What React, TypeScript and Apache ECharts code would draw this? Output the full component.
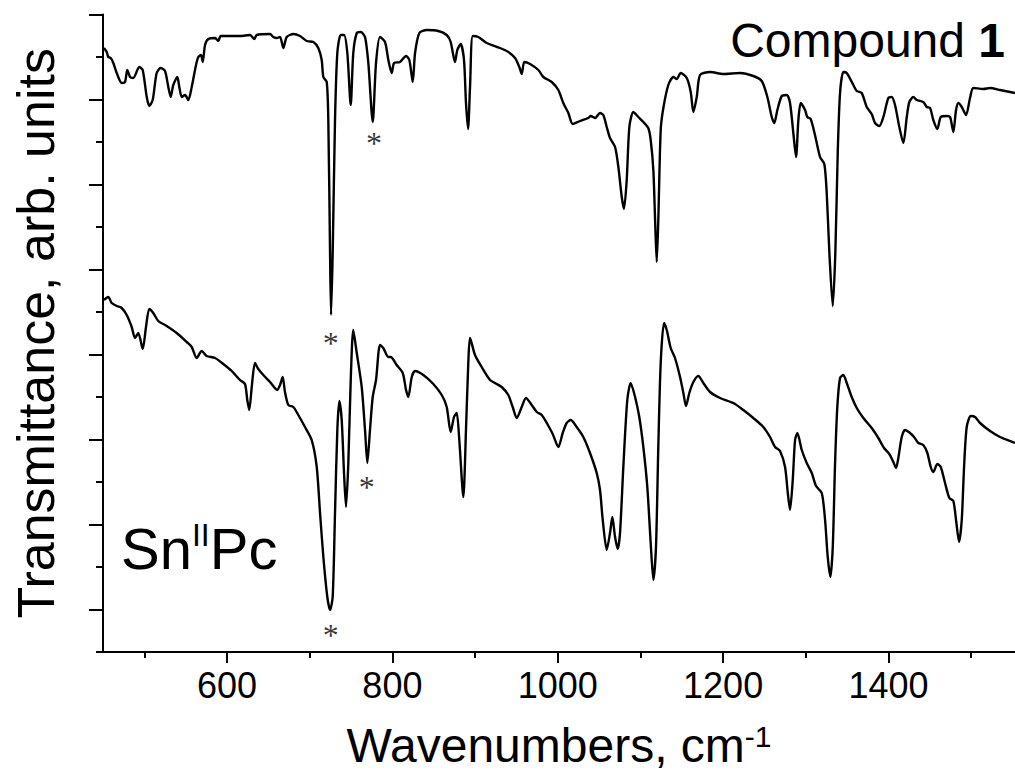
import React, { useEffect, useRef } from "react";
import * as echarts from "echarts";

// Compound 1 spectrum (wavenumber, transmittance in arb. units)
const compoundWn = [451.2,454.5,456.4,459.3,462.5,466.6,472.6,476.6,479.4,482.7,486.6,493.9,498.0,502.9,506.0,510.1,514.9,519.8,525.0,529.0,531.9,535.0,539.9,542.3,545.2,549.2,553.2,557.3,562.5,565.3,568.5,570.6,573.4,577.4,585.5,589.5,592.4,615.7,627.8,633.0,635.9,652.0,656.0,660.1,664.1,668.1,672.2,680.2,688.3,696.4,704.4,710.4,714.5,716.5,720.6,722.5,724.6,725.8,727.8,730.6,733.4,737.5,741.5,745.5,749.6,752.7,756.9,761.7,766.9,770.9,776.2,780.2,785.0,791.1,795.1,799.2,802.0,809.2,816.5,820.5,824.6,827.4,832.6,841.5,855.5,865.7,870.5,875.7,878.5,882.6,886.6,889.0,891.5,893.9,897.2,903.9,914.1,930.2,940.2,948.3,953.5,956.4,959.6,966.5,976.5,982.6,992.7,1000.7,1006.7,1012.8,1018.1,1026.9,1037.0,1039.9,1045.1,1051.1,1055.1,1059.2,1063.2,1069.3,1073.3,1077.4,1080.1,1083.4,1086.6,1091.4,1097.4,1103.5,1109.5,1112.4,1115.6,1118.0,1119.7,1121.6,1124.5,1127.7,1133.7,1139.8,1143.9,1148.7,1156.0,1160.8,1164.0,1168.1,1172.1,1184.2,1200.3,1220.4,1236.5,1246.7,1253.5,1258.8,1261.9,1265.6,1270.9,1276.9,1280.9,1284.9,1288.2,1291.0,1293.9,1299.1,1301.8,1305.9,1311.1,1317.2,1322.4,1325.3,1328.5,1332.6,1335.7,1338.6,1341.4,1345.4,1349.5,1357.5,1361.6,1367.6,1373.7,1379.7,1383.7,1388.9,1393.8,1399.8,1403.9,1407.9,1413.1,1418.0,1422.1,1425.2,1430.1,1434.2,1442.1,1446.3,1450.3,1454.2,1459.1,1463.2,1470.4,1474.5,1478.4,1481.7,1484.5,1488.6,1493.8,1498.6,1502.6,1514.7,1522.8,1534.9,1547.0,1553.0];
const compoundT = [60.4,60.0,59.5,59.4,58.9,57.9,56.9,57.0,58.2,57.5,57.4,58.5,58.2,55.5,54.6,55.2,57.9,58.4,58.1,56.5,55.5,56.7,57.5,56.5,55.5,55.7,55.2,56.5,58.7,59.5,59.7,59.0,60.7,61.3,61.4,61.1,61.6,61.6,61.7,61.3,61.7,61.8,61.5,61.4,61.5,60.4,61.5,61.8,61.6,61.1,61.0,60.4,59.2,57.5,57.0,53.2,39.9,33.7,39.9,53.2,59.9,61.7,61.7,59.9,54.7,59.9,61.9,62.0,61.5,58.9,53.0,58.9,61.5,61.0,59.2,57.9,58.9,59.0,59.6,59.2,57.0,59.9,61.9,62.2,62.1,61.7,61.0,59.0,60.2,60.8,59.2,54.9,52.3,56.5,61.6,61.5,60.9,60.4,60.0,59.4,58.5,57.8,59.0,58.8,58.2,57.5,57.0,56.2,54.9,53.9,52.8,53.1,53.4,53.6,53.4,53.9,53.7,52.5,51.4,50.5,48.5,45.5,44.3,47.2,52.5,54.0,53.5,53.0,52.4,51.2,48.2,42.5,39.0,43.2,52.2,54.4,56.7,57.5,57.3,57.9,57.4,56.0,54.0,55.5,57.7,58.0,57.8,57.9,57.6,57.1,55.5,53.5,52.9,54.2,55.6,55.7,54.9,51.9,49.5,53.2,54.9,54.2,53.5,53.3,51.7,49.5,48.8,45.9,39.9,34.6,39.9,49.9,55.9,58.0,57.9,56.7,56.1,55.9,54.5,53.8,52.9,52.6,53.5,55.4,55.5,54.7,52.5,50.9,53.5,55.0,55.5,55.2,55.0,54.5,54.4,53.2,52.3,53.5,53.6,53.5,52.0,54.2,54.9,54.5,53.7,55.4,56.4,56.3,56.4,56.2,56.0,55.9];

// Sn(II)Pc spectrum
const snpcWn = [451.2,456.4,460.5,466.6,472.6,478.7,484.7,488.7,492.7,498.0,502.0,506.0,510.8,516.9,527.0,539.1,551.2,557.3,563.3,569.4,575.4,585.5,595.5,605.7,615.7,621.7,624.5,626.9,629.9,633.8,637.8,643.9,652.0,660.8,664.1,667.3,670.1,674.1,680.2,686.2,694.3,702.4,708.5,712.5,716.5,721.3,724.6,727.8,730.6,733.4,735.8,738.7,741.5,743.9,746.7,749.6,752.7,756.9,762.9,766.9,769.7,772.9,776.2,780.2,785.0,789.0,795.1,798.0,805.2,812.5,816.5,819.3,823.4,827.4,837.4,849.5,859.7,865.7,870.5,874.5,877.8,880.9,885.8,889.0,891.8,893.9,899.9,908.0,918.1,924.1,932.2,940.2,945.5,950.4,956.4,961.6,968.5,974.6,980.6,987.4,993.9,1000.7,1006.0,1010.8,1015.7,1022.9,1030.9,1039.0,1047.1,1051.1,1054.4,1059.2,1063.2,1066.0,1069.3,1072.5,1075.3,1079.3,1084.1,1088.2,1093.5,1098.6,1103.5,1108.3,1112.4,1115.6,1118.8,1121.6,1124.5,1128.5,1131.8,1136.6,1141.8,1147.9,1151.9,1155.1,1159.1,1164.0,1170.0,1176.1,1184.2,1196.3,1212.3,1224.4,1236.5,1248.6,1256.7,1262.8,1268.8,1274.9,1278.2,1280.9,1284.2,1287.0,1289.8,1295.1,1301.1,1307.2,1312.4,1319.3,1323.3,1326.5,1329.7,1332.6,1335.4,1338.1,1341.4,1345.4,1349.5,1355.5,1361.6,1369.6,1379.7,1387.7,1394.6,1401.0,1405.9,1409.1,1411.9,1416.0,1420.0,1426.1,1430.9,1436.1,1442.1,1447.0,1451.1,1454.2,1459.1,1463.2,1468.4,1473.6,1478.4,1481.7,1485.3,1488.6,1491.4,1494.6,1499.5,1504.7,1510.7,1522.8,1534.9,1547.0,1553.0];
const snpcT = [35.2,35.5,34.9,34.6,34.4,33.7,32.5,31.4,31.9,30.3,32.5,34.3,33.9,33.1,32.6,31.9,31.0,30.5,29.4,30.1,29.6,29.4,28.8,28.1,27.2,26.8,25.2,24.2,26.5,28.9,28.3,27.7,27.0,26.2,26.7,27.5,26.0,24.7,24.5,23.7,22.5,21.2,18.5,13.9,9.5,5.5,4.2,5.5,13.9,22.2,25.1,23.2,17.9,14.5,18.9,27.2,32.2,29.9,26.5,22.2,18.9,22.2,25.5,27.2,30.7,30.4,29.5,29.5,28.7,27.9,26.2,25.5,27.5,28.1,27.7,26.8,25.7,24.5,22.0,23.5,23.9,21.2,15.5,22.2,28.9,31.4,29.7,28.5,27.2,26.9,26.5,25.7,24.5,23.4,24.5,25.4,24.7,24.0,23.7,22.8,21.8,20.5,21.9,22.9,23.2,22.5,21.5,19.9,17.9,16.2,13.2,10.2,11.9,13.5,11.5,10.3,11.9,18.5,25.2,26.9,25.5,23.5,20.5,16.5,10.9,7.2,10.5,20.5,28.9,32.9,32.2,30.4,29.4,27.5,25.9,24.6,25.9,27.0,27.6,26.9,26.0,25.4,24.9,24.2,23.4,22.5,21.5,20.5,20.1,18.5,15.9,14.2,17.2,21.2,21.9,20.2,18.9,17.9,16.6,15.9,13.2,9.5,7.5,10.5,18.9,24.5,27.4,27.7,26.9,25.5,24.4,23.4,22.4,21.4,20.4,19.8,19.0,18.4,19.4,21.5,22.2,21.9,21.5,20.9,20.7,19.9,18.5,18.0,18.8,18.5,16.9,15.4,15.1,13.2,11.0,13.2,18.5,22.5,23.6,23.5,22.9,22.1,21.5,21.1,20.9];

// asterisk markers
const markWn = [777.8, 725.4, 769.0, 725.4];
const markT = [51.4, 31.4, 17.0, 2.2];

// axis ticks
const xMajorTicks = [600, 800, 1000, 1200, 1400];
const xMinorTicks = [500, 700, 900, 1100, 1300, 1500];
const yMajorTicks = [4.25, 12.75, 21.25, 29.75, 38.25, 46.75, 55.25, 63.75];
const yMinorTicks = [0, 8.5, 17, 25.5, 34, 42.5, 51, 59.5];

const FONT = "Liberation Sans, Arial, sans-serif";

export default function App() {
  const ref = useRef<HTMLDivElement>(null);
  useEffect(() => {
    if (!ref.current) return;
    const chart = echarts.init(ref.current, null, { renderer: "svg" });
    const axisLineStyle = { color: "#000", width: 2 };
    const option: any = {
      animation: false,
      backgroundColor: "#fff",
      grid: {
        left: 103,
        right: 0,
        top: 14.5,
        bottom: 124,
        containLabel: false,
        outerBoundsMode: "none",
      },
      xAxis: [
        {
          type: "value",
          min: 450,
          max: 1553,
          position: "bottom",
          axisLine: { show: true, lineStyle: axisLineStyle },
          axisTick: { show: true, customValues: xMajorTicks, length: 11, lineStyle: axisLineStyle },
          axisLabel: {
            customValues: xMajorTicks,
            formatter: (v: number) => String(v),
            fontSize: 36,
            color: "#000",
            fontFamily: FONT,
            margin: 15,
          },
          splitLine: { show: false },
          name: "Wavenumbers, cm{sup|-1}",
          nameLocation: "middle",
          nameGap: 69,
          nameTextStyle: {
            fontSize: 48,
            color: "#000",
            fontFamily: FONT,
            rich: { sup: { fontSize: 30, color: "#000", fontFamily: FONT, verticalAlign: "top" } },
          },
        },
        {
          type: "value",
          min: 450,
          max: 1553,
          position: "bottom",
          axisLine: { show: false },
          axisTick: { show: true, customValues: xMinorTicks, length: 6, lineStyle: axisLineStyle },
          axisLabel: { show: false },
          splitLine: { show: false },
        },
      ],
      yAxis: [
        {
          type: "value",
          min: 0,
          max: 63.75,
          position: "left",
          axisLine: { show: true, lineStyle: axisLineStyle },
          axisTick: { show: true, customValues: yMajorTicks, length: 14, lineStyle: axisLineStyle },
          axisLabel: { show: false },
          splitLine: { show: false },
          name: "Transmittance, arb. units",
          nameLocation: "middle",
          nameGap: 41,
          nameTextStyle: { fontSize: 52, color: "#000", fontFamily: FONT },
        },
        {
          type: "value",
          min: 0,
          max: 63.75,
          position: "left",
          axisLine: { show: false },
          axisTick: { show: true, customValues: yMinorTicks, length: 7, lineStyle: axisLineStyle },
          axisLabel: { show: false },
          splitLine: { show: false },
        },
      ],
      graphic: [
        {
          type: "text",
          right: 10,
          top: 16,
          style: {
            text: "{a|Compound }{b|1}",
            fill: "#000",
            rich: {
              a: { fontSize: 48, fontFamily: FONT, fill: "#000" },
              b: { fontSize: 48, fontFamily: FONT, fontWeight: "bold", fill: "#000" },
            },
          },
        },
        {
          type: "text",
          left: 121,
          top: 519,
          style: {
            text: "{a|Sn}{s|II}{a|Pc}",
            fill: "#000",
            rich: {
              a: { fontSize: 58, fontFamily: FONT, fill: "#000" },
              s: { fontSize: 32, fontFamily: FONT, fill: "#000", verticalAlign: "top" },
            },
          },
        },
      ],
      series: [
        {
          type: "line",
          name: "Compound 1",
          xAxisIndex: 0,
          yAxisIndex: 0,
          data: compoundWn.map((w, i) => [w, compoundT[i]]),
          showSymbol: false,
          smooth: 0.25,
          lineStyle: { color: "#000", width: 2.4 },
          silent: true,
        },
        {
          type: "line",
          name: "SnIIPc",
          xAxisIndex: 0,
          yAxisIndex: 0,
          data: snpcWn.map((w, i) => [w, snpcT[i]]),
          showSymbol: false,
          smooth: 0.25,
          lineStyle: { color: "#000", width: 2.4 },
          silent: true,
        },
        {
          type: "scatter",
          name: "marks",
          xAxisIndex: 0,
          yAxisIndex: 0,
          data: markWn.map((w, i) => [w, markT[i]]),
          symbolSize: 0,
          itemStyle: { color: "#000" },
          label: {
            show: true,
            position: "inside",
            formatter: "*",
            fontSize: 32,
            fontFamily: "Liberation Serif, serif",
            color: "#000",
            textBorderWidth: 0,
            offset: [0, 5],
          },
          silent: true,
        },
      ],
    };
    chart.setOption(option);
    return () => chart.dispose();
  }, []);
  return (
    <div
      ref={ref}
      style={{ position: "fixed", left: 0, top: 0, width: 1015, height: 776, background: "#fff" }}
    />
  );
}
